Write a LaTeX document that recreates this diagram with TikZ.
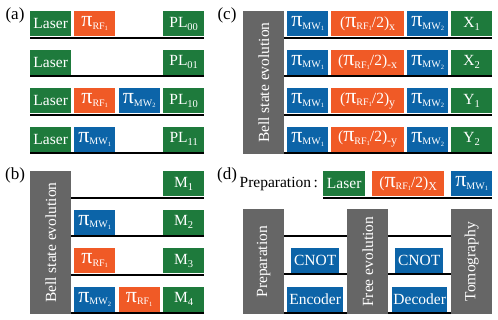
\documentclass[tikz,border=0pt]{standalone}
\usepackage{fontspec}
\setmainfont{Liberation Serif}
\usetikzlibrary{positioning}

\definecolor{lasergreen}{RGB}{30,122,60}
\definecolor{rforange}{RGB}{240,90,38}
\definecolor{mwblue}{RGB}{12,100,168}
\definecolor{blockgray}{RGB}{102,102,102}

\newcommand{\pipulse}[2]{{\fontsize{22}{22}\selectfont π}\raisebox{-2.5pt}{\fontsize{10}{10}\selectfont #1\raisebox{-1.2pt}{\fontsize{6.5}{7}\selectfont #2}}}
\newcommand{\halfpulse}[1]{(\pipulse{RF}{1}/2)\raisebox{-3pt}{\fontsize{12}{12}\selectfont #1}}
\newcommand{\subtxt}[2]{#1\raisebox{-3pt}{\fontsize{10.5}{11}\selectfont #2}}

\begin{document}
\begin{tikzpicture}[
            x=1pt, y=-1pt,
            pulse/.style={inner sep=0pt, minimum height=25pt, minimum width=41pt, anchor=north west, text=white, font=\fontsize{15.5}{16}\selectfont},
            laser/.style={pulse, fill=lasergreen},
            rf/.style={pulse, fill=rforange},
            mw/.style={pulse, fill=mwblue},
            block/.style={fill=blockgray, inner sep=0pt, minimum width=41pt, anchor=north west},
            blocktext/.style={rotate=90, text=white, font=\fontsize{15.5}{16}\selectfont},
            base/.style={line width=1.8pt},
            panel/.style={font=\fontsize{17}{17}\selectfont}
        ]
        \useasboundingbox (0,0) rectangle (498,319);

        % ======================================
        % (a) Readout of the four basis states
        % ======================================
        \node[panel] (lbl-a) at (15,15) {(a)};

        \foreach \r / \y in {1/11, 2/49.5, 3/88, 4/126.5}
        \node[laser] (a\r-laser) at (30,\y) {Laser};

        \foreach \r / \y / \s in {1/11/00, 2/49.5/01, 3/88/10, 4/126.5/11}
        \node[laser] (a\r-pl) at (163,\y) {\subtxt{PL}{\s}};

        \node[rf] (a1-rf) at (74,11) {\pipulse{RF}{1}};
        \node[rf] (a3-rf) at (74,88) {\pipulse{RF}{1}};
        \node[mw] (a3-mw) at (118.5,88) {\pipulse{MW}{2}};
        \node[mw] (a4-mw) at (74,126.5) {\pipulse{MW}{1}};

        \foreach \r in {1,...,4}
        \draw[base] ([yshift=-1.2pt]a\r-laser.south west) -- ([yshift=-1.2pt]a\r-pl.south east);

        % ======================================
        % (b) Bell state measurement
        % ======================================
        \node[panel] (lbl-b) at (15,175) {(b)};
        \node[block, minimum height=143pt, label={[blocktext]center:Bell state evolution}] (b-bell) at (30,171) {};

        \foreach \r / \y in {1/171, 2/209.5, 3/248, 4/286.5}
        \node[laser] (b\r-m) at (163,\y) {\subtxt{M}{\r}};

        \node[mw] (b2-mw) at (74,209.5) {\pipulse{MW}{1}};
        \node[rf] (b3-rf) at (74,248) {\pipulse{RF}{1}};
        \node[mw] (b4-mw) at (74,286.5) {\pipulse{MW}{2}};
        \node[rf] (b4-rf) at (118.5,286.5) {\pipulse{RF}{1}};

        \foreach \r in {1,...,4}
        \draw[base] ([yshift=-1.2pt]b-bell.east |- b\r-m.south) -- ([yshift=-1.2pt]b\r-m.south east);

        % ======================================
        % (c) Coherence measurement
        % ======================================
        \node[panel] (lbl-c) at (227,15) {(c)};
        \node[block, minimum height=143pt, label={[blocktext]center:Bell state evolution}] (c-bell) at (243,11) {};

        \foreach \r / \y in {1/11, 2/49.5, 3/88, 4/126.5} {
            \node[mw] (c\r-mw1) at (287,\y) {\pipulse{MW}{1}};
            \node[mw] (c\r-mw2) at (407,\y) {\pipulse{MW}{2}};
        }

        \foreach \r / \y / \ax in {1/11/x, 2/49.5/-x, 3/88/y, 4/126.5/-y}
        \node[rf, minimum width=73pt] (c\r-rf) at (331,\y) {\halfpulse{\ax}};

        \foreach \r / \y / \ro / \k in {1/11/X/1, 2/49.5/X/2, 3/88/Y/1, 4/126.5/Y/2}
        \node[laser] (c\r-out) at (451,\y) {\subtxt{\ro}{\k}};

        \foreach \r in {1,...,4}
        \draw[base] ([yshift=-1.2pt]c-bell.east |- c\r-mw1.south) -- ([yshift=-1.2pt]c\r-out.south east);

        % ======================================
        % (d) Error correction sequence
        % ======================================
        \node[panel] (lbl-d) at (227,175) {(d)};

        % Preparation row
        \node[laser, minimum width=42pt] (d-laser) at (323,171) {Laser};
        \node[rf, minimum width=72pt] (d-rf) at (372,171) {\halfpulse{X}};
        \node[mw] (d-mw) at (451,171) {\pipulse{MW}{1}};
        \node[left=1.5pt of d-laser, font=\fontsize{15.5}{16}\selectfont] (d-preptext) {Preparation\,:};
        \draw[base] ([yshift=-1.2pt]d-laser.south west) -- ([yshift=-1.2pt]d-mw.south east);

        % Stages
        \foreach \name / \x / \txt in {prep/243/Preparation, free/347/Free evolution, tomo/451/Tomography}
        \node[block, minimum height=105pt, label={[blocktext]center:\txt}] (d-\name) at (\x,209) {};

        \node[mw, minimum width=48pt] (d-cnot1) at (291,247.5) {CNOT};
        \node[mw, minimum width=56pt] (d-enc) at (287,286.5) {Encoder};
        \node[mw, minimum width=48pt] (d-cnot2) at (395,247.5) {CNOT};
        \node[mw, minimum width=55pt] (d-dec) at (392,286.5) {Decoder};

        \coordinate (d-row1) at (0,234.5);
        \foreach \row in {d-row1, d-cnot1.south, d-enc.south} {
            \draw[base] ([yshift=-1.2pt]d-prep.east |- \row) -- ([yshift=-1.2pt]d-free.west |- \row);
            \draw[base] ([yshift=-1.2pt]d-free.east |- \row) -- ([yshift=-1.2pt]d-tomo.west |- \row);
        }

    \end{tikzpicture}
\end{document}
